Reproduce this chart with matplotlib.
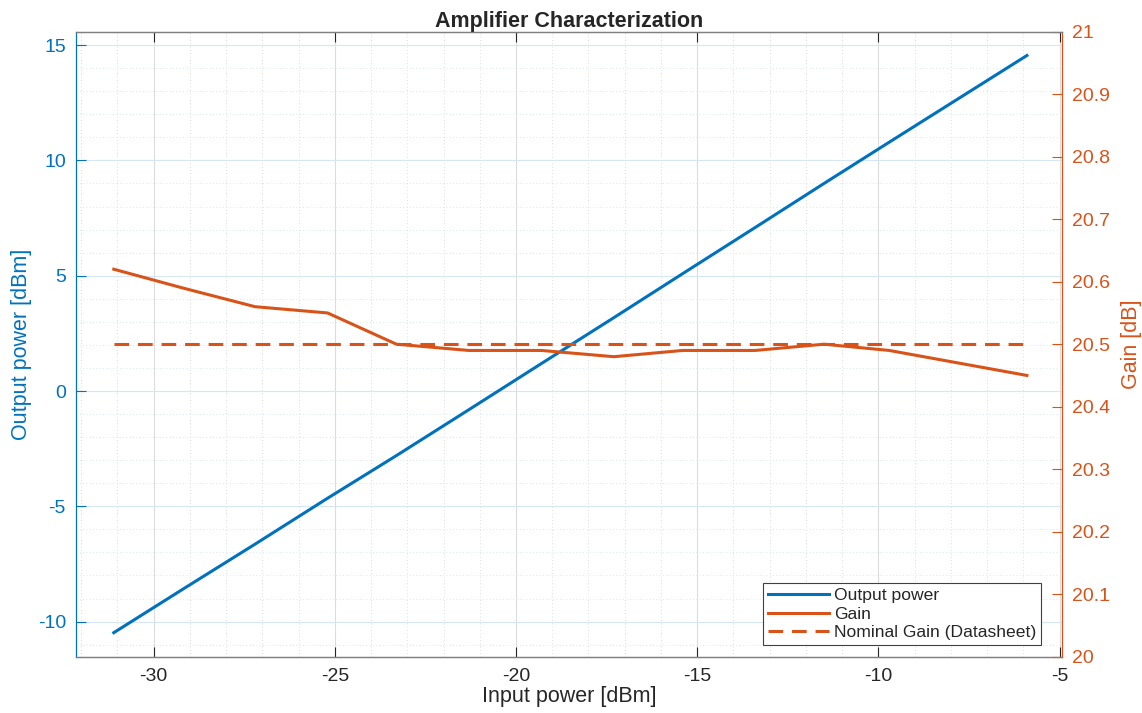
import numpy as np
import matplotlib.pyplot as plt
from matplotlib.ticker import MultipleLocator

plt.rcParams['font.family'] = ['Liberation Sans', 'DejaVu Sans']
plt.rcParams['axes.unicode_minus'] = False

# sweep points (dBm in) and measured results
p_in = [-31.1, -29.2, -27.2, -25.2, -23.3, -21.3, -19.3, -17.3, -15.4, -13.4, -11.5, -9.7, -7.8, -5.9]
p_out = [-10.48, -8.6, -6.64, -4.65, -2.8, -0.81, 1.19, 3.18, 5.09, 7.09, 9.0, 10.79, 12.67, 14.55]
gain = [20.62, 20.59, 20.56, 20.55, 20.50, 20.49, 20.49, 20.48, 20.49, 20.49, 20.50, 20.49, 20.47, 20.45]
gain_nominal = 20.5

blue = '#0072BD'
orange = '#D95319'
dark = '#262626'

fig = plt.figure(figsize=(11.42, 7.13), dpi=100)
ax = fig.add_axes([0.0663, 0.079, 0.8637, 0.8765])
ax2 = ax.twinx()

l1, = ax.plot(p_in, p_out, color=blue, lw=2.2, label='Output power')
l2, = ax2.plot(p_in, gain, color=orange, lw=2.2, label='Gain')
l3, = ax2.plot([p_in[0], p_in[-1]], [gain_nominal, gain_nominal], color=orange, lw=2.2,
               ls=(0, (4.8, 2.9)), label='Nominal Gain (Datasheet)')

ax.set_xlim(-32.15, -4.93)
ax.set_ylim(-11.52, 15.58)
ax2.set_ylim(20, 21)

ax.xaxis.set_major_locator(MultipleLocator(5))
ax.xaxis.set_minor_locator(MultipleLocator(1))
ax.yaxis.set_major_locator(MultipleLocator(5))
ax.yaxis.set_minor_locator(MultipleLocator(1))
ax2.yaxis.set_major_locator(MultipleLocator(0.1))
ax2.yaxis.set_major_formatter(plt.FuncFormatter(lambda v, p: f'{v:g}'))

# grid: vertical gray, horizontal tinted like the left axis
ax.grid(True, axis='x', which='major', color='#dcdcdc', lw=0.8)
ax.grid(True, axis='y', which='major', color='#d6e6f3', lw=0.8)
ax.grid(True, axis='x', which='minor', color='#d4d4d4', lw=0.6, ls=(0, (1, 3)))
ax.grid(True, axis='y', which='minor', color='#cfe0ee', lw=0.6, ls=(0, (1, 3)))
ax.set_axisbelow(True)

ax.tick_params(axis='x', which='major', direction='in', length=7, width=0.8, colors=dark,
               labelsize=14, top=True, pad=8)
ax.tick_params(axis='x', which='minor', length=0, top=False, bottom=False)
ax.tick_params(axis='y', which='major', direction='in', length=7, width=0.8, colors=blue,
               labelsize=14, pad=7)
ax.tick_params(axis='y', which='minor', length=0)
ax2.tick_params(axis='y', which='major', direction='in', length=7, width=0.8, colors=orange,
                labelsize=14, pad=7)

for a in (ax, ax2):
    a.spines['top'].set_color('#808080')
    a.spines['bottom'].set_color('#808080')
    a.spines['left'].set_color(blue)
    a.spines['right'].set_color(orange)
    for s in a.spines.values():
        s.set_linewidth(0.9)
ax2.spines['left'].set_visible(False)
ax.spines['right'].set_visible(False)

ax.set_xlabel('Input power [dBm]', fontsize=15.5, color=dark, labelpad=1)
ax.set_ylabel('Output power [dBm]', fontsize=15.5, color=blue, labelpad=4)
ax2.set_ylabel('Gain [dB]', fontsize=15.5, color=orange, labelpad=8)
ax.set_title('Amplifier Characterization', fontsize=15.5, fontweight='bold', color=dark, pad=3)

leg = ax2.legend(handles=[l1, l2, l3], loc='lower right', fontsize=12.6, frameon=True,
                 fancybox=False, edgecolor='#404040', framealpha=1, borderpad=0.25,
                 handlelength=3.5, handletextpad=0.3, labelspacing=0.2,
                 borderaxespad=0.0, bbox_to_anchor=(0.9785, 0.019))
leg.get_frame().set_linewidth(0.8)
for t in leg.get_texts():
    t.set_color(dark)

fig.savefig('out.png', dpi=100)
